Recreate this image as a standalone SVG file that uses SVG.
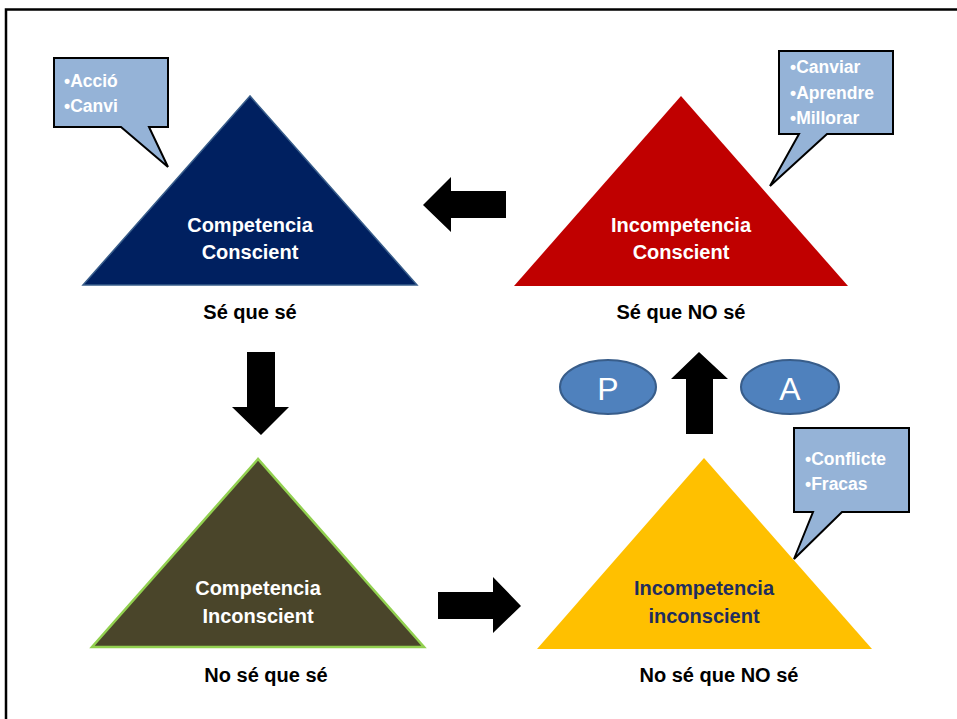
<svg xmlns="http://www.w3.org/2000/svg" width="957" height="719" viewBox="0 0 957 719">
<style>
.lbl{font-family:"Liberation Sans",Arial,sans-serif;font-weight:bold;font-size:20px;text-anchor:middle}
.cap{font-family:"Liberation Sans",Arial,sans-serif;font-weight:bold;font-size:20px;text-anchor:middle;fill:#000}
.co{fill:#95B3D7;stroke:#000;stroke-width:2;stroke-linejoin:miter}
.cot{font-family:"Liberation Sans",Arial,sans-serif;font-weight:bold;font-size:17.5px;fill:#fff}
.arr{fill:#000}
.ell{fill:#4F81BD;stroke:#385D8A;stroke-width:2}
.et{font-family:"Liberation Sans",Arial,sans-serif;font-size:32px;fill:#fff;text-anchor:middle}
</style>
<rect x="0" y="0" width="957" height="719" fill="#fff"/>
<rect x="6" y="9.5" width="1000" height="800" fill="none" stroke="#000" stroke-width="2.5"/>

<g id="node-competencia-conscient">
<polygon points="250,96 83,285 417,285" fill="#002060" stroke="#385D8A" stroke-width="1.5"/>
<text class="lbl" x="250" y="232" fill="#fff">Competencia</text>
<text class="lbl" x="250" y="259" fill="#fff">Conscient</text>
<text class="cap" x="250" y="319">Sé que sé</text>
</g>
<g id="callout-accio">
<path class="co" d="M54,58 H168 V127 H149 L168,167 L121,127 H54 Z"/>
<text class="cot" x="64" y="87">•Acció</text>
<text class="cot" x="64" y="112">•Canvi</text>
</g>

<g id="node-incompetencia-conscient">
<polygon points="681,96 514,286 848,286" fill="#C00000"/>
<text class="lbl" x="681" y="232" fill="#fff">Incompetencia</text>
<text class="lbl" x="681" y="259" fill="#fff">Conscient</text>
<text class="cap" x="681" y="319">Sé que NO sé</text>
</g>
<g id="callout-canviar">
<path class="co" d="M779,51 H893 V134 H827 L770,186 L799,134 H779 Z"/>
<text class="cot" x="790" y="73">•Canviar</text>
<text class="cot" x="790" y="99">•Aprendre</text>
<text class="cot" x="790" y="124">•Millorar</text>
</g>

<g id="node-competencia-inconscient">
<polygon points="258,459 92,647 424,647" fill="#4A452A" stroke="#92D050" stroke-width="2.5"/>
<text class="lbl" x="258" y="595" fill="#fff">Competencia</text>
<text class="lbl" x="258" y="623" fill="#fff">Inconscient</text>
<text class="cap" x="266" y="682">No sé que sé</text>
</g>

<g id="node-incompetencia-inconscient">
<polygon points="704,458 537,649 872,649" fill="#FFC000"/>
<text class="lbl" x="704" y="595" fill="#1F2D5E">Incompetencia</text>
<text class="lbl" x="704" y="623" fill="#1F2D5E">inconscient</text>
<text class="cap" x="719" y="682">No sé que NO sé</text>
</g>
<g id="callout-conflicte">
<path class="co" d="M794,428 H909 V512 H842 L794,559 L813,512 H794 Z"/>
<text class="cot" x="805" y="465">•Conflicte</text>
<text class="cot" x="805" y="490">•Fracas</text>
</g>

<g id="node-p">
<ellipse class="ell" cx="608" cy="387" rx="48" ry="27"/>
<text class="et" x="608" y="400">P</text>
</g>
<g id="node-a">
<ellipse class="ell" cx="790" cy="387" rx="49" ry="27"/>
<text class="et" x="790" y="400">A</text>
</g>

<g id="connectors">
<polygon class="arr" points="423,205 451,177 451,191 506,191 506,218 451,218 451,232"/>
<polygon class="arr" points="247,352 275,352 275,407 289,407 261,435 232,407 247,407"/>
<polygon class="arr" points="438,592 493,592 493,577 521,606 493,633 493,619 438,619"/>
<polygon class="arr" points="686,434 686,379 671,379 699,352 728,379 713,379 713,434"/>
</g>
</svg>
